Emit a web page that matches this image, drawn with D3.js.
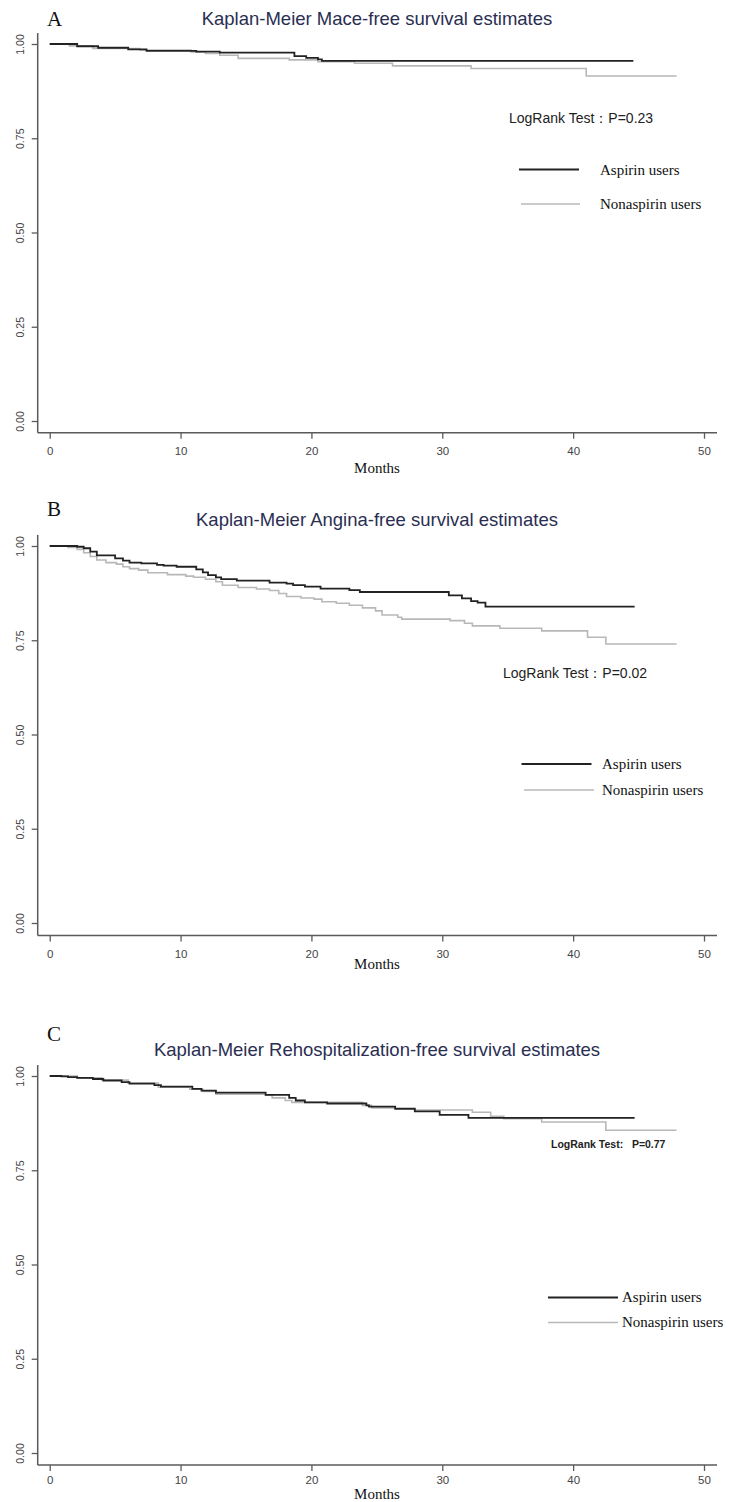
<!DOCTYPE html>
<html>
<head>
<meta charset="utf-8">
<script src="https://cdn.jsdelivr.net/npm/d3@7"></script>
<style>
  html, body { margin: 0; padding: 0; background: #fff; }
  svg { display: block; }
  .tick text { font-family: "Liberation Sans Narrow", "Liberation Sans", Arial, sans-serif; fill: #444; }
</style>
</head>
<body>
<div id="chart"></div>
<script>
// axis ticks
var monthTicks = [0, 10, 20, 30, 40, 50];
var survTicks = [0, 0.25, 0.5, 0.75, 1];

var groups = ["Aspirin users", "Nonaspirin users"];
var letters = ["A", "B", "C"];
var titles = [
  "Kaplan-Meier Mace-free survival estimates",
  "Kaplan-Meier Angina-free survival estimates",
  "Kaplan-Meier Rehospitalization-free survival estimates"
];
var logrank = ["LogRank Test\uff1aP=0.23", "LogRank Test\uff1aP=0.02", "LogRank Test:   P=0.77"];

// A: MACE-free
var maceAspT = [0, 2.1, 3.7, 6.0, 7.4, 11.2, 13.0, 18.7, 19.6, 20.5, 20.8, 44.6];
var maceAspS = [1, 0.994, 0.990, 0.986, 0.982, 0.980, 0.977, 0.968, 0.963, 0.959, 0.955, 0.955];
var maceNonT = [0, 1.5, 3.3, 6.9, 10.8, 11.9, 13.0, 14.4, 18.3, 20.5, 23.3, 26.2, 32.2, 41.0, 47.9];
var maceNonS = [1, 0.995, 0.988, 0.984, 0.979, 0.975, 0.970, 0.962, 0.958, 0.953, 0.949, 0.942, 0.935, 0.915, 0.915];

// B: angina-free
var angAspT = [0, 2.1, 2.6, 3.1, 3.6, 5.0, 5.6, 6.1, 7.0, 8.2, 8.7, 9.7, 11.2, 11.7, 12.1, 12.7, 13.1, 14.3, 16.8, 18.1, 18.6, 19.5, 20.7, 22.9, 23.7, 30.5, 31.5, 32.2, 32.7, 33.3, 44.7];
var angAspS = [1, 0.998, 0.994, 0.985, 0.975, 0.967, 0.961, 0.956, 0.954, 0.950, 0.948, 0.945, 0.938, 0.930, 0.923, 0.917, 0.912, 0.908, 0.903, 0.900, 0.896, 0.892, 0.887, 0.883, 0.878, 0.869, 0.861, 0.854, 0.850, 0.839, 0.839];
var angNonT = [0, 1.4, 2.1, 2.6, 3.1, 3.6, 4.3, 5.1, 5.6, 6.1, 6.8, 7.5, 9.0, 10.4, 11.0, 11.9, 12.7, 13.2, 14.4, 15.8, 16.8, 17.5, 18.1, 19.2, 20.2, 20.8, 21.9, 22.9, 23.9, 24.9, 25.4, 26.6, 26.9, 30.6, 31.7, 32.3, 34.4, 37.6, 41.1, 42.5, 47.9];
var angNonS = [1, 0.996, 0.991, 0.982, 0.972, 0.963, 0.956, 0.952, 0.945, 0.940, 0.936, 0.929, 0.924, 0.920, 0.917, 0.912, 0.905, 0.896, 0.890, 0.886, 0.882, 0.874, 0.866, 0.862, 0.859, 0.852, 0.848, 0.843, 0.836, 0.828, 0.817, 0.811, 0.806, 0.802, 0.795, 0.788, 0.782, 0.775, 0.758, 0.740, 0.740];

// C: rehospitalization-free
var rehAspT = [0, 0.9, 1.4, 2.1, 3.3, 4.1, 5.5, 6.1, 8.0, 8.5, 10.9, 11.6, 12.7, 16.5, 18.3, 18.8, 19.5, 21.2, 24.2, 24.4, 26.4, 27.9, 29.8, 32.0, 44.7];
var rehAspS = [1, 0.999, 0.997, 0.995, 0.992, 0.988, 0.984, 0.980, 0.976, 0.972, 0.966, 0.961, 0.956, 0.950, 0.942, 0.935, 0.930, 0.927, 0.922, 0.919, 0.913, 0.906, 0.897, 0.889, 0.889];
var rehNonT = [0, 2.1, 4.0, 6.0, 8.3, 10.7, 11.7, 12.7, 16.5, 17.0, 18.0, 18.5, 23.9, 24.6, 27.9, 32.3, 33.7, 34.7, 37.6, 42.5, 47.9];
var rehNonS = [1, 0.995, 0.989, 0.981, 0.970, 0.965, 0.959, 0.952, 0.949, 0.942, 0.935, 0.930, 0.922, 0.915, 0.910, 0.904, 0.893, 0.887, 0.878, 0.856, 0.856];

function zip(t, s) { return t.map(function (d, i) { return [d, s[i]]; }); }

var curves = [
  [zip(maceAspT, maceAspS), zip(maceNonT, maceNonS)],
  [zip(angAspT, angAspS), zip(angNonT, angNonS)],
  [zip(rehAspT, rehAspS), zip(rehNonT, rehNonS)]
];

// layout of each panel (pixels)
var layout = [
  { top: 44, bottom: 421, axisY: 432.7, letterY: 26, titleY: 25, labY: 451, monthsY: 473,
    lr: [509, 122.7, 14, "normal"], leg: [[519, 579, 169.5, 600, 174.5], [521, 580, 204, 600, 209]] },
  { top: 546, bottom: 923, axisY: 935.5, letterY: 516, titleY: 526, labY: 954, monthsY: 969,
    lr: [503, 678, 14, "normal"], leg: [[521.5, 591.5, 764, 602, 768.5], [524, 594, 790, 602, 794.5]] },
  { top: 1076, bottom: 1453, axisY: 1465, letterY: 1041, titleY: 1056, labY: 1480, monthsY: 1499,
    lr: [551, 1148, 10.5, "bold"], leg: [[548, 618, 1297.5, 622, 1302], [548, 618, 1322.5, 622, 1327]] }
];

var W = 729, H = 1502;
var axisLeft = 37.7, axisRight = 717;
var axisColor = "#5a5a5a";
var lineColors = ["#222222", "#b8b8b8"];
var lineWidths = [1.8, 1.6];

var svg = d3.select("#chart").append("svg")
  .attr("width", W)
  .attr("height", H)
  .attr("viewBox", "0 0 " + W + " " + H);

var x = d3.scaleLinear().domain([0, 50]).range([49.7, 704]);

layout.forEach(function (L, p) {
  var y = d3.scaleLinear().domain([0, 1]).range([L.bottom, L.top]);
  var g = svg.append("g");

  // panel letter and title
  g.append("text")
    .attr("x", 47).attr("y", L.letterY)
    .attr("font-family", "Liberation Serif, Times New Roman, serif")
    .attr("font-size", 21)
    .attr("fill", "#111")
    .text(letters[p]);

  g.append("text")
    .attr("x", 377).attr("y", L.titleY)
    .attr("text-anchor", "middle")
    .attr("font-family", "Liberation Sans, Arial, sans-serif")
    .attr("font-size", 18.5)
    .attr("fill", "#2a2e52")
    .text(titles[p]);

  // x axis
  var gx = g.append("g")
    .attr("transform", "translate(0," + L.axisY + ")")
    .call(d3.axisBottom(x).tickValues(monthTicks).tickSize(6).tickSizeOuter(0));
  gx.select(".domain").remove();
  gx.selectAll(".tick line").attr("stroke", axisColor).attr("stroke-width", 1.3);
  gx.selectAll(".tick text")
    .attr("font-size", 11.5)
    .attr("y", L.labY - L.axisY)
    .attr("dy", "0.35em");
  gx.append("line")
    .attr("x1", axisLeft).attr("x2", axisRight)
    .attr("stroke", axisColor).attr("stroke-width", 1.5);

  // y axis
  var gy = g.append("g")
    .attr("transform", "translate(" + axisLeft + ",0)")
    .call(d3.axisLeft(y).tickValues(survTicks).tickFormat(d3.format(".2f")).tickSize(6).tickSizeOuter(0));
  gy.select(".domain").remove();
  gy.selectAll(".tick line").attr("stroke", axisColor).attr("stroke-width", 1.3);
  gy.selectAll(".tick text")
    .attr("font-family", "Liberation Sans, Arial, sans-serif")
    .attr("font-size", 10.5)
    .attr("fill", "#666")
    .attr("x", null).attr("dy", null)
    .attr("text-anchor", "middle")
    .attr("transform", "translate(-14,0) rotate(-90)");
  gy.append("line")
    .attr("y1", L.top - 11).attr("y2", L.axisY)
    .attr("stroke", axisColor).attr("stroke-width", 1.5);

  g.append("text")
    .attr("x", 377).attr("y", L.monthsY)
    .attr("text-anchor", "middle")
    .attr("font-family", "Liberation Serif, Times New Roman, serif")
    .attr("font-size", 15)
    .attr("fill", "#111")
    .text("Months");

  // survival curves
  var line = d3.line()
    .curve(d3.curveStepAfter)
    .x(function (d) { return x(d[0]); })
    .y(function (d) { return y(d[1]); });

  g.selectAll("path.km").data(curves[p].slice().reverse())
    .enter()
    .append("path")
    .attr("class", "km")
    .attr("d", line)
    .attr("fill", "none")
    .attr("stroke", function (d, i) { return lineColors[1 - i]; })
    .attr("stroke-width", function (d, i) { return lineWidths[1 - i]; });

  // log-rank text
  g.append("text")
    .attr("x", L.lr[0]).attr("y", L.lr[1])
    .attr("font-family", "Liberation Sans, Arial, sans-serif")
    .attr("font-size", L.lr[2])
    .attr("font-weight", L.lr[3])
    .attr("fill", "#222")
    .attr("xml:space", "preserve")
    .style("white-space", "pre")
    .text(logrank[p]);

  // legend
  L.leg.forEach(function (e, i) {
    g.append("line")
      .attr("x1", e[0]).attr("x2", e[1])
      .attr("y1", e[2]).attr("y2", e[2])
      .attr("stroke", lineColors[i])
      .attr("stroke-width", lineWidths[i]);
    g.append("text")
      .attr("x", e[3]).attr("y", e[4])
      .attr("font-family", "Liberation Serif, Times New Roman, serif")
      .attr("font-size", 15)
      .attr("fill", "#111")
      .text(groups[i]);
  });
});
</script>
</body>
</html>
